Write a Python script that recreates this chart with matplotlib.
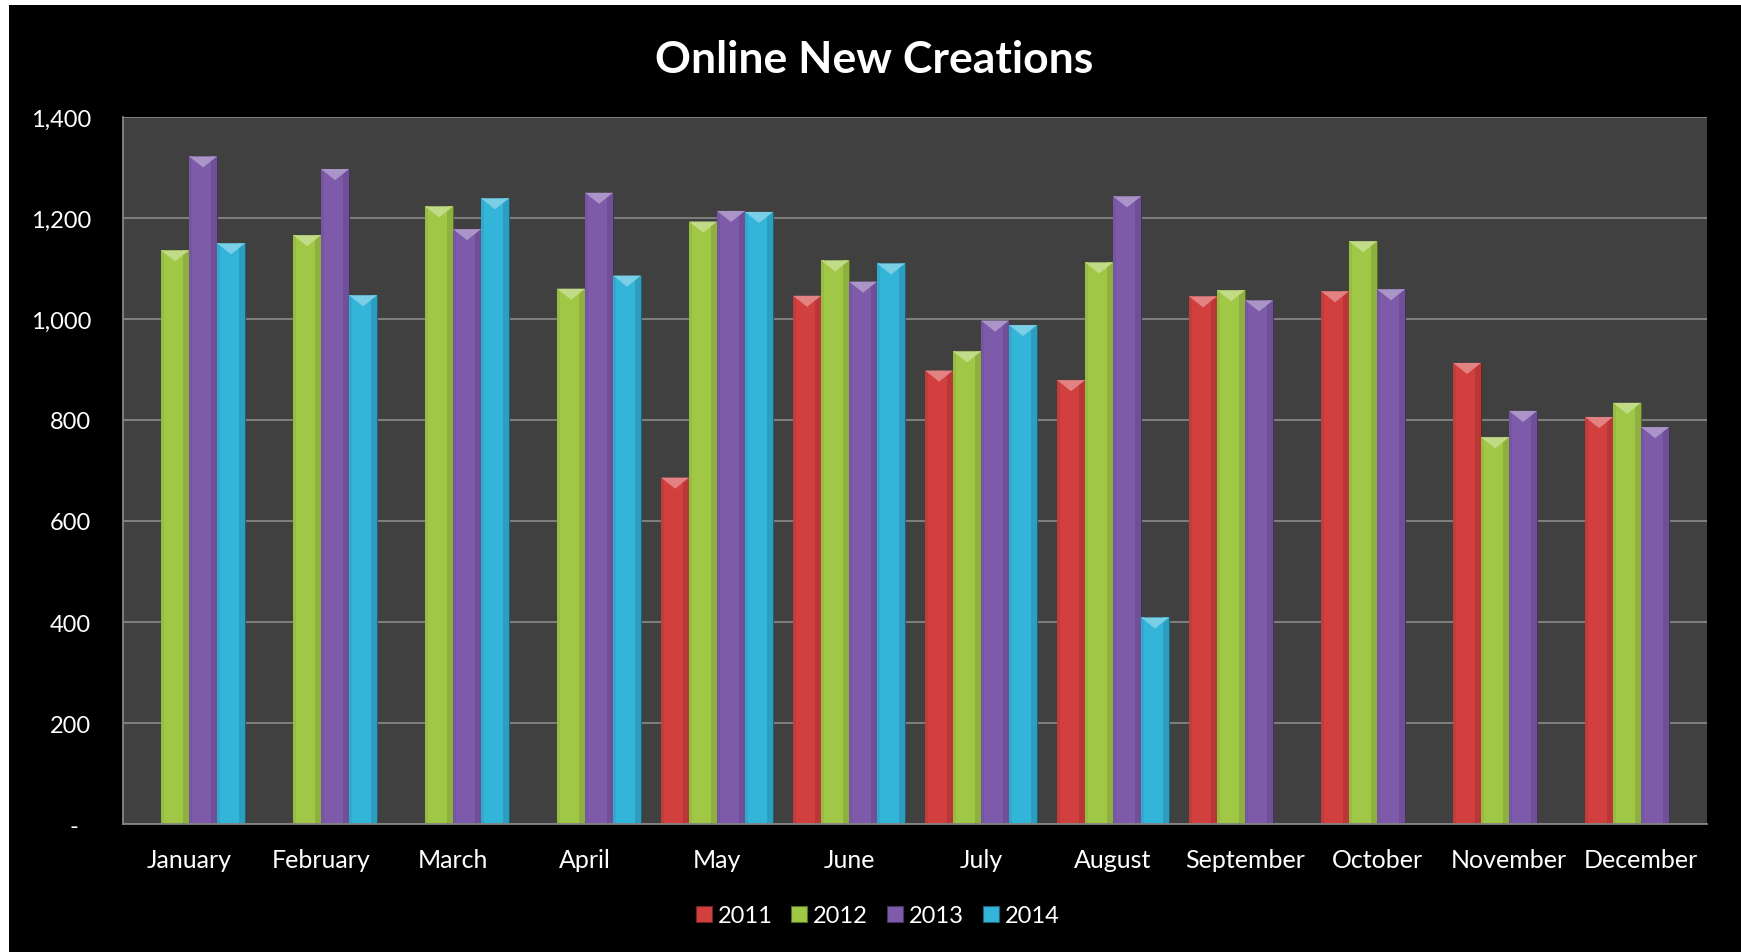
import numpy as np
import matplotlib.pyplot as plt
from matplotlib.patches import Rectangle, Polygon
from matplotlib.ticker import FuncFormatter
from matplotlib.colors import to_rgb

plt.rcParams["font.family"] = ["Lato", "DejaVu Sans"]

months = ["January", "February", "March", "April", "May", "June",
          "July", "August", "September", "October", "November", "December"]
years = ["2011", "2012", "2013", "2014"]

nan = np.nan
v2011 = [nan, nan, nan, nan, 686, 1046, 898, 879, 1045, 1055, 913, 806]
v2012 = [1136, 1166, 1223, 1060, 1193, 1116, 936, 1112, 1057, 1154, 766, 834]
v2013 = [1322, 1297, 1178, 1250, 1214, 1074, 997, 1243, 1037, 1059, 818, 786]
v2014 = [1150, 1047, 1239, 1086, 1212, 1110, 988, 409, nan, nan, nan, nan]

colors = ["#d23f3f", "#a0c846", "#7e5aab", "#33b4d9"]

fig = plt.figure(figsize=(17.41, 9.53), dpi=100, facecolor="black")
# thin white border on top and left of the chart area
fig.patches.append(Rectangle((0, 1 - 6 / 953), 1, 6 / 953, transform=fig.transFigure,
                             facecolor="white", edgecolor="none", zorder=-10))
fig.patches.append(Rectangle((0, 0), 9 / 1741, 1, transform=fig.transFigure,
                             facecolor="white", edgecolor="none", zorder=-10))

ax = fig.add_axes([0.0707, 0.1343, 0.9098, 0.7419])
ax.set_facecolor("#404040")

x = np.arange(len(months))
w = 0.212
bevel = 22  # depth of the top bevel in data units

def shade(c, f):
    r, g, b = to_rgb(c)
    if f > 0:
        return (r + (1 - r) * f, g + (1 - g) * f, b + (1 - b) * f)
    return (r * (1 + f), g * (1 + f), b * (1 + f))

for i, (vals, c, yr) in enumerate(zip([v2011, v2012, v2013, v2014], colors, years)):
    bars = ax.bar(x + (i - 1.5) * w, vals, w, color=c, edgecolor=shade(c, -0.45),
                  linewidth=0.8, label=yr, zorder=3)
    for b in bars:
        h = b.get_height()
        if np.isnan(h):
            continue
        x0, bw = b.get_x(), b.get_width()
        # darker right side and lighter top bevel, a rough take on the 3-D look
        ax.add_patch(Rectangle((x0 + bw * 0.8, 0), bw * 0.2, h, facecolor=shade(c, -0.12),
                               edgecolor="none", zorder=3.5))
        ax.add_patch(Rectangle((x0, 0), bw * 0.12, h, facecolor=shade(c, -0.06),
                               edgecolor="none", zorder=3.5))
        ax.add_patch(Polygon([(x0, h), (x0 + bw, h), (x0 + bw / 2, h - bevel)],
                             closed=True, facecolor=shade(c, 0.35), edgecolor="none", zorder=4))

ax.set_xlim(-0.5, 11.5)
ax.set_ylim(0, 1400)
ax.set_yticks(np.arange(0, 1401, 200))
ax.yaxis.set_major_formatter(FuncFormatter(lambda v, p: "-  " if v == 0 else f"{v:,.0f}"))
ax.set_xticks(x)
ax.set_xticklabels(months)
ax.grid(axis="y", color="#858585", linewidth=1.3, zorder=1)
ax.set_axisbelow(True)

for s in ["top", "right"]:
    ax.spines[s].set_visible(False)
for s in ["left", "bottom"]:
    ax.spines[s].set_color("#858585")
    ax.spines[s].set_linewidth(1.3)
ax.spines["bottom"].set_zorder(5)

ax.tick_params(axis="y", length=0, pad=23, labelsize=17, labelcolor="white")
ax.tick_params(axis="x", length=0, pad=17, labelsize=18, labelcolor="white")

fig.text(0.502, 0.937, "Online New Creations", ha="center", va="center",
         fontsize=32, fontweight="bold", color="white")

leg = fig.legend(loc="center", bbox_to_anchor=(0.504, 0.038), ncol=4, frameon=False,
                 fontsize=17, labelcolor="white", handlelength=0.68, handleheight=0.68,
                 handletextpad=0.25, columnspacing=0.8)

fig.savefig("out.png", dpi=100, facecolor=fig.get_facecolor())
